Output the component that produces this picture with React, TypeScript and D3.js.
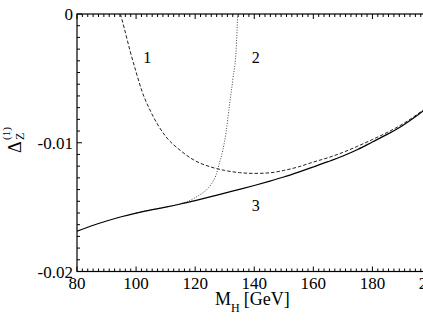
import React from 'react';
import * as d3 from 'd3';

// Higgs mass [GeV] and Delta_Z^(1)
const solidM = [80, 85, 90, 95, 100, 105, 110, 115, 120, 125, 130, 135, 140, 145, 150, 155, 160, 165, 170, 175, 180, 185, 190, 195, 200];
const solidV = [-0.01687, -0.01645, -0.01608, -0.01575, -0.01546, -0.01522, -0.01500, -0.01476, -0.01449, -0.01421, -0.01391, -0.01362, -0.01332, -0.01300, -0.01266, -0.01228, -0.01188, -0.01147, -0.01103, -0.01052, -0.00994, -0.00935, -0.00869, -0.00790, -0.00700];

const dashM = [94.7, 96, 98, 100, 102, 105, 110, 115, 120, 125, 130, 135, 140, 145, 150, 155, 160, 165, 170, 175, 180, 185, 190, 195, 200];
const dashV = [0, -0.0011, -0.0029, -0.0045, -0.0060, -0.0076, -0.0095, -0.0106, -0.0114, -0.01186, -0.01215, -0.01232, -0.01238, -0.01234, -0.01215, -0.01187, -0.01150, -0.01116, -0.01075, -0.01027, -0.00975, -0.00920, -0.00858, -0.00782, -0.00695];

const dotM = [100, 105, 110, 114, 116, 118, 120, 122, 124, 125.5, 127, 128.3, 129.4, 130.5, 131.6, 132.8, 133.9, 134.4];
const dotV = [-0.01546, -0.01522, -0.01500, -0.01481, -0.01467, -0.01450, -0.01427, -0.01398, -0.01362, -0.01320, -0.01255, -0.01150, -0.01056, -0.0091, -0.0071, -0.0050, -0.00265, 0];

const xTicks = [80, 100, 120, 140, 160, 180, 200];
const yTicks = [0, -0.01, -0.02];
const yTickLabels = ['0', '-0.01', '-0.02'];
const nMinor = 10;

const curveLabels = [
  { text: '1', m: 103.8, v: -0.0034 },
  { text: '2', m: 140.5, v: -0.0034 },
  { text: '3', m: 140.5, v: -0.0149 },
];

const W = 423, H = 327;
const left = 77, right = 431.5, top = 14, bottom = 271.5;
const font = "Liberation Serif, DejaVu Serif, serif";

export default function App() {
  const x = d3.scaleLinear().domain([80, 200]).range([left, right]);
  const y = d3.scaleLinear().domain([-0.02, 0]).range([bottom, top]);

  const line = d3.line<[number, number]>()
    .x(d => x(d[0]))
    .y(d => y(d[1]))
    .curve(d3.curveMonotoneX);

  const solid = line(solidM.map((m, i) => [m, solidV[i]]))!;
  const dashed = line(dashM.map((m, i) => [m, dashV[i]]))!;
  const dotted = line(dotM.map((m, i) => [m, dotV[i]]))!;

  // minor ticks: 10 between majors
  const xMinor: number[] = [];
  for (let i = 0; i < xTicks.length - 1; i++) {
    const step = (xTicks[i + 1] - xTicks[i]) / (nMinor + 1);
    for (let k = 1; k <= nMinor; k++) xMinor.push(xTicks[i] + k * step);
  }
  const yMinor: number[] = [];
  for (let i = 0; i < yTicks.length - 1; i++) {
    const step = (yTicks[i + 1] - yTicks[i]) / (nMinor + 1);
    for (let k = 1; k <= nMinor; k++) yMinor.push(yTicks[i] + k * step);
  }

  return (
    <svg width={W} height={H} style={{ position: 'fixed', left: 0, top: 0, background: '#fff' }} fontFamily={font}>
      <defs>
        <clipPath id="plot">
          <rect x={left} y={top} width={right - left} height={bottom - top} />
        </clipPath>
      </defs>

      {/* frame */}
      <rect x={left} y={top} width={right - left} height={bottom - top} fill="none" stroke="#000" strokeWidth={1.2} />

      {/* ticks, pointing inward */}
      <g stroke="#000" strokeWidth={1}>
        {xTicks.map(t => (
          <g key={'xt' + t}>
            <line x1={x(t)} x2={x(t)} y1={bottom} y2={bottom - 5} />
            <line x1={x(t)} x2={x(t)} y1={top} y2={top + 5} />
          </g>
        ))}
        {xMinor.map((t, i) => (
          <g key={'xm' + i}>
            <line x1={x(t)} x2={x(t)} y1={bottom} y2={bottom - 3} />
            <line x1={x(t)} x2={x(t)} y1={top} y2={top + 3} />
          </g>
        ))}
        {yTicks.map(t => (
          <line key={'yt' + t} x1={left} x2={left + 5} y1={y(t)} y2={y(t)} />
        ))}
        {yMinor.map((t, i) => (
          <line key={'ym' + i} x1={left} x2={left + 3} y1={y(t)} y2={y(t)} />
        ))}
      </g>

      {/* tick labels */}
      <g fontSize={17} fill="#000">
        {xTicks.map(t => (
          <text key={'xl' + t} x={x(t)} y={289} textAnchor="middle">{t}</text>
        ))}
        {yTicks.map((t, i) => (
          <text key={'yl' + t} x={73} y={y(t) + 6} textAnchor="end">{yTickLabels[i]}</text>
        ))}
      </g>

      {/* curves */}
      <g clipPath="url(#plot)" fill="none">
        <path d={dotted} stroke="#444" strokeWidth={1} strokeDasharray="1,1.6" />
        <path d={dashed} stroke="#222" strokeWidth={1} strokeDasharray="3.5,2" />
        <path d={solid} stroke="#000" strokeWidth={1.2} />
      </g>

      {/* curve numbers */}
      <g fontSize={16} fill="#000" textAnchor="middle">
        {curveLabels.map(c => (
          <text key={c.text} x={x(c.m)} y={y(c.v) + 5}>{c.text}</text>
        ))}
      </g>

      {/* axis titles */}
      <text x={215} y={305} fontSize={18}>
        M<tspan fontSize={12} dy={7}>H</tspan>
        <tspan dy={-7} dx={4}>[GeV]</tspan>
      </text>
      <g transform="translate(21,153) rotate(-90)">
        <text x={0} y={0} fontSize={18}>Δ</text>
        <text x={13} y={3} fontSize={12}>Z</text>
        <text x={13} y={-11} fontSize={11}>(1)</text>
      </g>
    </svg>
  );
}
